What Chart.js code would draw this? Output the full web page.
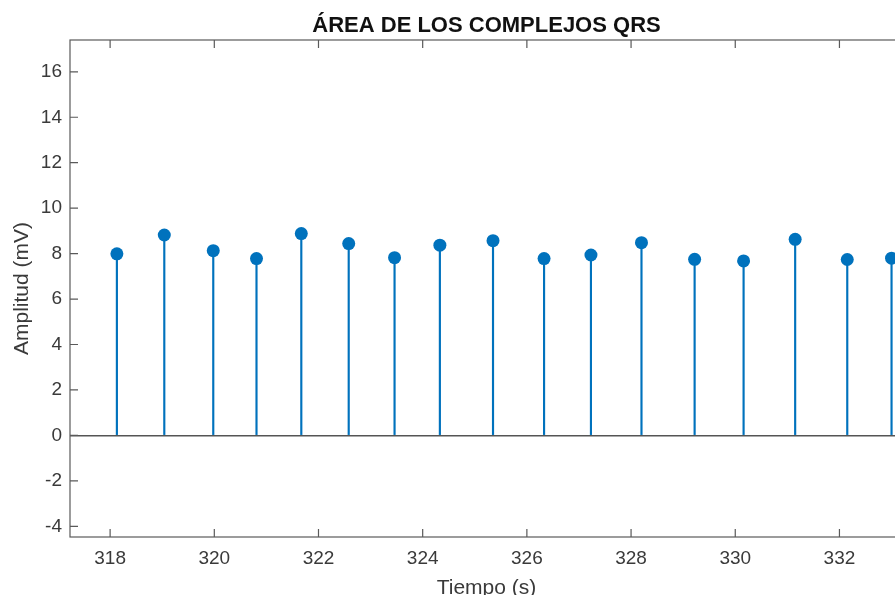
<!DOCTYPE html>
<html>
<head>
<meta charset="utf-8">
<script src="https://cdn.jsdelivr.net/npm/chart.js@4/dist/chart.umd.min.js"></script>
<style>
  html, body { margin: 0; padding: 0; background: #fff; overflow: hidden; }
  #wrap { width: 910px; height: 595px; }
</style>
</head>
<body>
<div id="wrap"><canvas id="c" width="910" height="595"></canvas></div>
<script>
// Time of each QRS complex (s) and its area (mV)
const tiempos = [318.13, 319.04, 319.98, 320.81, 321.67, 322.58, 323.46, 324.33,
                 325.35, 326.33, 327.23, 328.20, 329.22, 330.16, 331.15, 332.15, 333.00];
const areas   = [7.99, 8.82, 8.13, 7.78, 8.88, 8.44, 7.82, 8.37,
                 8.57, 7.78, 7.94, 8.48, 7.75, 7.68, 8.63, 7.74, 7.80];

const titulo = 'ÁREA DE LOS COMPLEJOS QRS';
const xLimits = [317.23, 333.22];
const yLimits = [-4.47, 17.4];
const tickStep = 2;

const FONT = 'Arial, "Liberation Sans", Helvetica, sans-serif';
const STEM_BLUE = '#0072BD';
const AXIS_GRAY = '#5a5a5a';

const puntos = tiempos.map((t, i) => ({ x: t, y: areas[i] }));

// Axes box with inward tick marks, and the title centred over the plot area
const axesBox = {
  id: 'axesBox',
  afterDraw(chart) {
    const { ctx, chartArea: a, scales: { x, y } } = chart;
    const len = 8;
    ctx.save();
    ctx.strokeStyle = AXIS_GRAY;
    ctx.lineWidth = 1.2;
    ctx.strokeRect(a.left, a.top, a.right - a.left, a.bottom - a.top);
    ctx.beginPath();
    x.ticks.forEach(t => {
      const px = x.getPixelForValue(t.value);
      ctx.moveTo(px, a.bottom); ctx.lineTo(px, a.bottom - len);
      ctx.moveTo(px, a.top);    ctx.lineTo(px, a.top + len);
    });
    y.ticks.forEach(t => {
      const py = y.getPixelForValue(t.value);
      ctx.moveTo(a.left, py);  ctx.lineTo(a.left + len, py);
      ctx.moveTo(a.right, py); ctx.lineTo(a.right - len, py);
    });
    ctx.stroke();

    ctx.fillStyle = '#111';
    ctx.font = 'bold 22px ' + FONT;
    ctx.textAlign = 'center';
    ctx.textBaseline = 'alphabetic';
    ctx.fillText(titulo, (a.left + a.right) / 2, a.top - 8.5);
    ctx.restore();
  }
};

new Chart(document.getElementById('c'), {
  type: 'scatter',
  data: {
    datasets: [
      {
        type: 'scatter',
        data: puntos,
        pointRadius: 6.5,
        pointHoverRadius: 6.5,
        backgroundColor: STEM_BLUE,
        borderWidth: 0,
        order: 0
      },
      {
        type: 'bar',
        data: puntos,
        backgroundColor: STEM_BLUE,
        borderWidth: 0,
        barThickness: 1.5,
        order: 1
      }
    ]
  },
  options: {
    responsive: false,
    animation: false,
    events: [],
    layout: { padding: { left: 0, right: 7, top: 40, bottom: 0 } },
    plugins: {
      legend: { display: false },
      tooltip: { enabled: false },
      title: { display: false }
    },
    scales: {
      x: {
        type: 'linear',
        position: 'bottom',
        min: xLimits[0],
        max: xLimits[1],
        offset: false,
        border: { display: false },
        grid: { display: false, offset: false, drawTicks: false },
        ticks: {
          stepSize: tickStep,
          includeBounds: false,
          maxRotation: 0,
          padding: 10,
          color: '#3a3a3a',
          font: { family: FONT, size: 19 },
          callback: v => v.toString()
        },
        title: {
          display: true,
          text: 'Tiempo (s)',
          color: '#3a3a3a',
          font: { family: FONT, size: 21, lineHeight: 1 },
          padding: { top: 0, bottom: -4 }
        },
        afterFit: s => { s.height = 58; }
      },
      y: {
        type: 'linear',
        position: 'left',
        min: yLimits[0],
        max: yLimits[1],
        border: { display: false },
        grid: {
          drawTicks: false,
          lineWidth: 1.6,
          color: c => (c.tick && c.tick.value === 0) ? '#555555' : 'rgba(0,0,0,0)'
        },
        ticks: {
          stepSize: tickStep,
          includeBounds: false,
          padding: 8,
          color: '#3a3a3a',
          font: { family: FONT, size: 19 }
        },
        title: {
          display: true,
          text: 'Amplitud (mV)',
          color: '#3a3a3a',
          font: { family: FONT, size: 21, lineHeight: 1.2 },
          padding: { top: 9.4, bottom: 0 }
        },
        afterFit: s => { s.width = 70; }
      }
    }
  },
  plugins: [axesBox]
});
</script>
</body>
</html>
